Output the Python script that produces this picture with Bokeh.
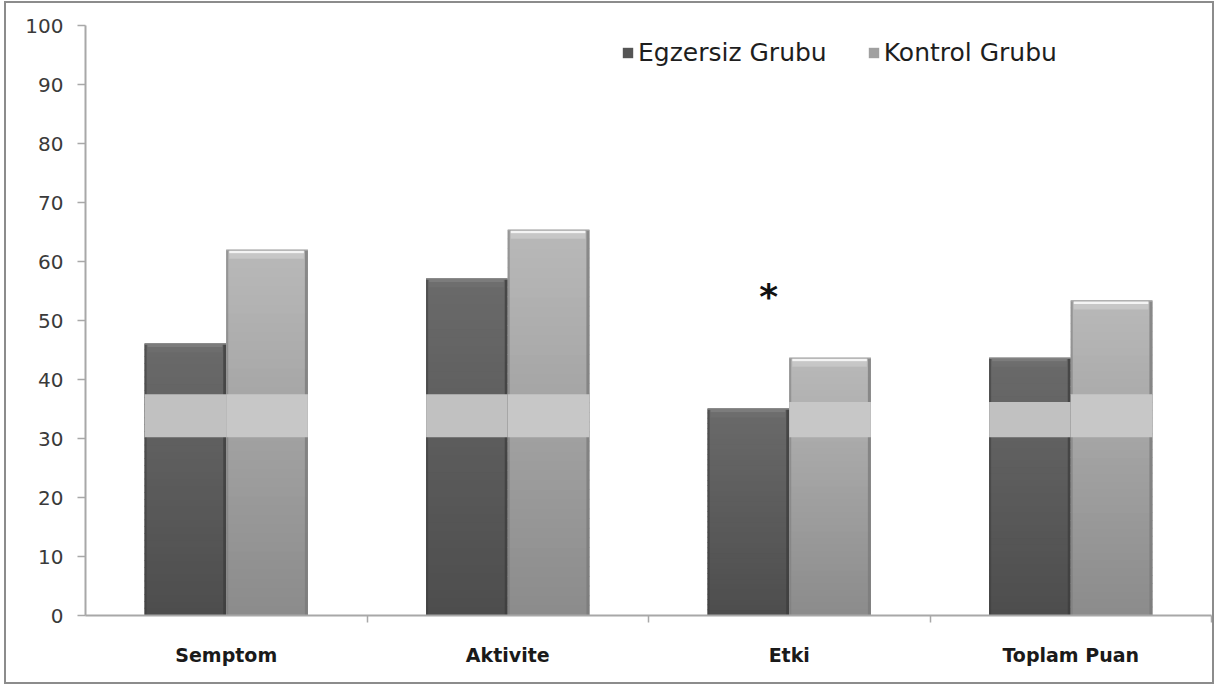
from bokeh.plotting import figure
from bokeh.models import Range1d, FixedTicker, Legend, LegendItem, ColumnDataSource
from bokeh.core.properties import value
from bokeh.embed import file_html
from bokeh.resources import INLINE

# ---- data -------------------------------------------------------------
categories = ["Semptom", "Aktivite", "Etki", "Toplam Puan"]
egzersiz = [46.1, 57.1, 35.1, 43.7]      # Egzersiz Grubu
kontrol = [62.0, 65.4, 43.7, 53.4]       # Kontrol Grubu
significance = ["", "", "*", ""]
y_ticks = [0, 10, 20, 30, 40, 50, 60, 70, 80, 90, 100]

# ---- geometry / style -------------------------------------------------
W, H = 1206, 679
BAR_W = 0.29
PX_X = 4 / 1126.0          # one screen pixel in x data units
PX_Y = 100 / 590.0         # one screen pixel in y data units

p = figure(width=W, height=H, output_backend="svg", toolbar_location=None,
           x_range=Range1d(0, 4), y_range=Range1d(0, 100),
           min_border_left=79, min_border_right=1, min_border_top=22,
           min_border_bottom=67)
p.styles = {"margin-left": "6px", "margin-top": "3px",
            "outline": "2px solid #8c8c8c"}
p.outline_line_color = None
p.grid.visible = False
p.background_fill_color = "white"
p.border_fill_color = "white"

# y axis
ya = p.yaxis[0]
ya.ticker = FixedTicker(ticks=y_ticks, minor_ticks=[])
ya.axis_line_color = "#a8a8a8"
ya.axis_line_width = 2
ya.major_tick_line_color = "#a8a8a8"
ya.major_tick_line_width = 1.5
ya.major_tick_out = 8
ya.major_tick_in = 0
ya.minor_tick_line_color = None
ya.major_label_standoff = 14
ya.major_label_text_font = "DejaVu Sans"
ya.major_label_text_font_size = "20px"
ya.major_label_text_color = "#3a3a3a"

# x axis: labels at category centres, small ticks at category boundaries
xa = p.xaxis[0]
centres = [i + 0.5 for i in range(len(categories))]
xa.ticker = FixedTicker(ticks=centres, minor_ticks=[1, 2, 3, 4])
xa.major_label_overrides = {c: name for c, name in zip(centres, categories)}
xa.axis_line_color = "#a8a8a8"
xa.axis_line_width = 2
xa.major_tick_line_color = None
xa.minor_tick_line_color = "#a8a8a8"
xa.minor_tick_line_width = 1.5
xa.minor_tick_out = 7
xa.minor_tick_in = 0
xa.major_tick_out = 0
xa.major_label_standoff = 21
xa.major_label_text_font = "DejaVu Sans"
xa.major_label_text_font_style = "bold"
xa.major_label_text_font_size = "19px"
xa.major_label_text_color = "#1a1a1a"


def mix(c0, c1, t):
    a = [int(c0[i:i + 2], 16) for i in (1, 3, 5)]
    b = [int(c1[i:i + 2], 16) for i in (1, 3, 5)]
    return "#%02x%02x%02x" % tuple(round(a[k] + (b[k] - a[k]) * t) for k in range(3))


series = [
    dict(name="Egzersiz Grubu", vals=egzersiz, off=-BAR_W, bottom="#4d4d4d",
         top="#6a6a6a", rim="#8e8e8e", hi="#7c7c7c", edge="#3c3c3c",
         band="#c1c1c1", key="#555555"),
    dict(name="Kontrol Grubu", vals=kontrol, off=0.0, bottom="#8b8b8b",
         top="#b9b9b9", rim="#9e9e9e", hi="#f4f4f4", edge="#7a7a7a",
         band="#c7c7c7", key="#a0a0a0"),
]

legend_items = []
N = 40
for s in series:
    lefts = [c + s["off"] for c in centres]
    rights = [l + BAR_W for l in lefts]

    # base bar (also used as legend key)
    base = p.quad(left=lefts, right=rights, bottom=0, top=s["vals"],
                  fill_color=s["key"], line_color=None)
    legend_items.append(LegendItem(label=s["name"], renderers=[base]))

    # vertical shading of each bar
    sl = dict(l=[], r=[], b=[], t=[], c=[])
    for l, r, v in zip(lefts, rights, s["vals"]):
        for k in range(N):
            sl["l"].append(l)
            sl["r"].append(r)
            sl["b"].append(v * k / N)
            sl["t"].append(min(v, v * (k + 1) / N + PX_Y))
            sl["c"].append(mix(s["bottom"], s["top"], (k + 0.5) / N))
    p.quad(left="l", right="r", bottom="b", top="t", fill_color="c",
           line_color=None, source=ColumnDataSource(sl))

    # side edges
    p.quad(left=lefts, right=[l + 2 * PX_X for l in lefts], bottom=0,
           top=[v - PX_Y for v in s["vals"]], fill_color=s["edge"],
           fill_alpha=0.55, line_color=None)
    p.quad(left=[r - 3 * PX_X for r in rights], right=rights, bottom=0,
           top=[v - PX_Y for v in s["vals"]], fill_color=s["edge"],
           fill_alpha=0.75, line_color=None)

    # bevelled top: thin rim, bright highlight, soft shade below
    p.quad(left=lefts, right=rights, bottom=[v - PX_Y for v in s["vals"]],
           top=s["vals"], fill_color=s["rim"], line_color=None)
    p.quad(left=[l + 3 * PX_X for l in lefts], right=[r - 4 * PX_X for r in rights],
           bottom=[v - 3.5 * PX_Y for v in s["vals"]],
           top=[v - 1 * PX_Y for v in s["vals"]], fill_color=s["hi"],
           line_color=None)
    p.quad(left=[l + 3 * PX_X for l in lefts], right=[r - 4 * PX_X for r in rights],
           bottom=[v - 9 * PX_Y for v in s["vals"]],
           top=[v - 3.5 * PX_Y for v in s["vals"]], fill_color=s["hi"],
           fill_alpha=0.25, line_color=None)

    # pale horizontal band across the taller bars
    bl, br, bb, bt = [], [], [], []
    for l, r, v in zip(lefts, rights, s["vals"]):
        top = min(37.5, v - 7.5)
        if top > 33.5:
            bl.append(l)
            br.append(r)
            bb.append(30.2)
            bt.append(top)
    p.quad(left=bl, right=br, bottom=bb, top=bt, fill_color=s["band"],
           line_color=None)

# significance marker
p.text(x=[c - 0.073 for c in centres], y=[54.1] * len(centres), text=significance,
       text_font=value("DejaVu Sans"), text_font_style="bold",
       text_font_size="36px", text_color="#111111", text_align="center",
       text_baseline="alphabetic")

legend = Legend(items=legend_items, orientation="horizontal",
                location=(536, 548), padding=0, margin=0, spacing=40,
                glyph_width=13, glyph_height=13, label_standoff=4,
                label_text_font="DejaVu Sans", label_text_font_size="25px",
                label_text_color="#1e1e1e", border_line_color=None,
                background_fill_alpha=0)
p.add_layout(legend)

open("out.html", "w").write(file_html(p, INLINE))
